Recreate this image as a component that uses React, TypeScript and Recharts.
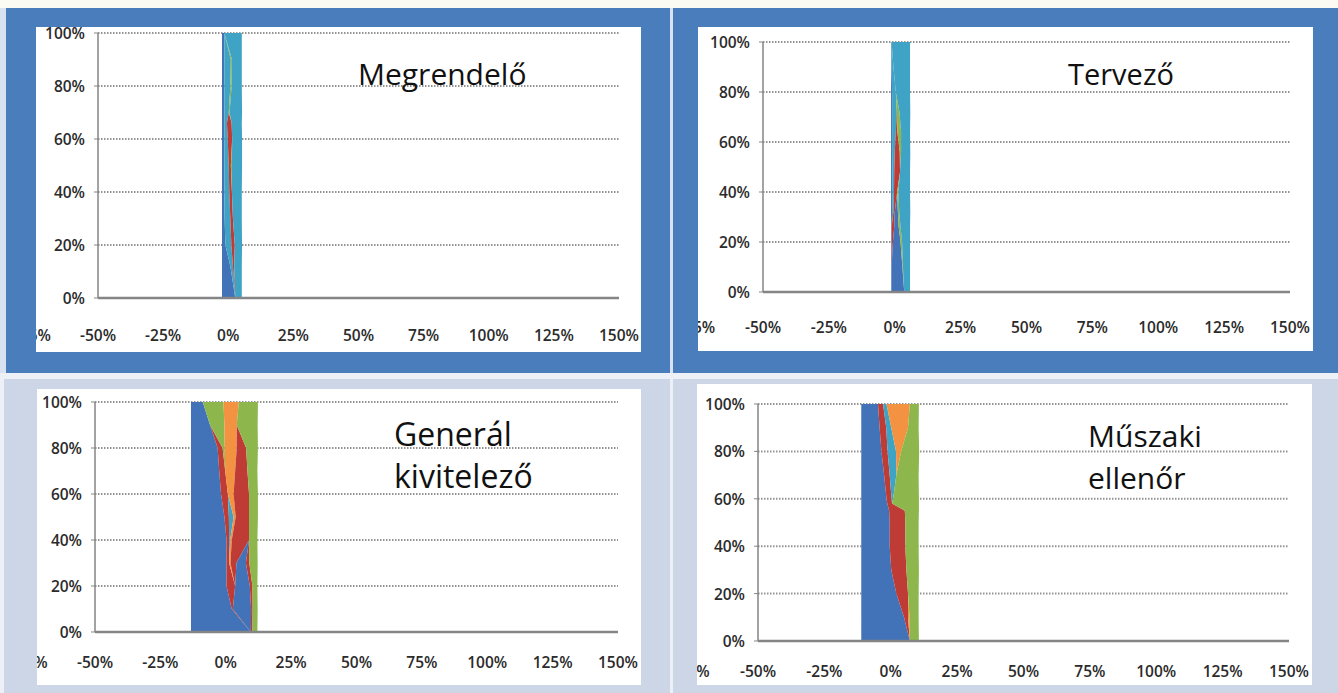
import { AreaChart, Area, XAxis, YAxis, CartesianGrid } from 'recharts';

const BLUE = '#4272B7';
const RED = '#BF3C36';
const GREEN = '#8DB64C';
const TEAL = '#3FA3C5';
const ORANGE = '#F39241';

const xTicks = [-50, -25, 0, 25, 50, 75, 100, 125, 150];
const yTicks = [0, 20, 40, 60, 80, 100];

// Megrendelő: cumulative share (y) vs. deviation band widths (x, in %)
const megrendeloLevels = [0, 12, 20, 30, 40, 50, 60, 66, 70, 80, 90, 100];
const megrendeloStart = -2.4;
const megrendeloBlue = [5.1, 3.2, 1.3, 1.0, 0.9, 0.9, 0.9, 0.9, 0.9, 0.9, 0.9, 0.9];
const megrendeloTeal = [0, 1.0, 2.3, 2.2, 1.9, 1.7, 1.3, 1.0, 1.7, 2.3, 2.5, 0];
const megrendeloRed = [0, 0.5, 1.3, 1.0, 1.0, 0.8, 1.7, 1.8, 0, 0, 0, 0];
const megrendeloGreen = [0, 0, 0, 0, 0, 0.4, 0, 0, 0.3, 0.5, 0.4, 0];
const megrendeloTeal2 = [2.5, 2.9, 2.8, 3.4, 3.8, 3.9, 3.8, 3.9, 4.8, 3.9, 3.8, 6.7];

// Tervező
const tervezoLevels = [0, 10, 20, 26, 32, 40, 48, 56, 64, 72, 80, 90, 100];
const tervezoStart = -1.4;
const tervezoBlue = [0.2, 0.2, 0.2, 0.2, 0.4, 0.5, 0.5, 0.4, 0.4, 0.4, 0.4, 0.2, 0.2];
const tervezoTeal = [0, 0, 0, 0, 0.5, 0.6, 0.7, 1.0, 1.4, 1.8, 1.4, 0.7, 0];
const tervezoRed = [0, 0, 0.5, 1.0, 0.5, 1.2, 2.2, 1.9, 0.6, 0, 0, 0, 0];
const tervezoBlue2 = [4.8, 4.1, 2.9, 1.7, 1.2, 0, 0, 0, 0, 0, 0, 0, 0];
const tervezoGreen = [0, 0.2, 0.6, 0.7, 0.5, 0.5, 0, 0.5, 1.4, 1.0, 0, 0, 0];
const tervezoTeal2 = [2.2, 2.7, 3.0, 3.6, 4.2, 4.4, 3.8, 3.5, 3.4, 4.1, 5.4, 6.3, 7.0];

// Generál kivitelező
const generalLevels = [0, 10, 20, 30, 40, 50, 60, 70, 80, 90, 100];
const generalStart = -13.3;
const generalBlue = [22.9, 15.6, 13.6, 13.6, 13.6, 12.8, 11.5, 10.8, 10.2, 7.3, 4.5];
const generalRed = [0, 0.4, 3.3, 1.0, 1.0, 1.7, 2.6, 2.3, 1.9, 0, 0];
const generalGreen = [0, 0, 0, 0, 0, 0, 0, 0, 0.8, 5.5, 7.9];
const generalTeal = [0, 0, 0, 0, 0.4, 1.8, 0, 0, 0, 0, 0];
const generalOrange = [0, 0, 0, 0.5, 0.6, 0.8, 2.2, 3.8, 4.6, 4.7, 5.9];
const generalRed2 = [0, 0, 0, 2.3, 6.6, 5.1, 5.9, 4.7, 3.6, 0, 0];
const generalBlue2 = [0, 7.0, 5.6, 3.6, 0, 0, 0, 0, 0, 0, 0];
const generalRed3 = [0.6, 0.6, 1.0, 1.3, 0, 0, 0, 0, 0, 0, 0];
const generalGreen2 = [1.9, 1.9, 1.9, 3.2, 3.2, 3.4, 3.4, 3.8, 4.5, 8.0, 7.3];

// Műszaki ellenőr
const muszakiLevels = [0, 10, 20, 30, 40, 50, 55, 58, 60, 70, 80, 90, 100];
const muszakiStart = -11.1;
const muszakiBlue = [18.3, 16.1, 13.2, 11.3, 10.7, 10.7, 10.5, 9.8, 9.5, 8.6, 7.6, 6.9, 6.3];
const muszakiRed = [0, 1.5, 4.4, 5.7, 5.9, 5.9, 5.9, 1.8, 1.9, 2.1, 2.3, 2.5, 1.9];
const muszakiTeal = [0, 0, 0, 0, 0, 0, 0, 0, 0.6, 2.5, 3.2, 1.9, 1.3];
const muszakiOrange = [0, 0.6, 0, 0, 0, 0, 0, 0, 0, 0, 1.9, 6.3, 8.8];
const muszakiGreen = [3.4, 3.4, 4.0, 4.7, 5.0, 5.0, 5.3, 10.1, 9.7, 8.4, 6.8, 4.0, 3.4];

type Series = { values: number[]; color: string };
type Box = { x: number; y: number; w: number; h: number };
type Plot = { L: number; T: number; R: number; B: number };

type PanelDef = {
  bg: Box;
  bgColor: string;
  card: Box;
  plot: Plot;
  xLabelGap: number;
  levels: number[];
  start: number;
  series: Series[];
  title: string[];
  titlePos: { x: number; y: number; size: number; lh: number };
};

const AXIS_FONT = { fontFamily: 'Open Sans', fontSize: 15.5, fontWeight: 600, fill: '#2b2b2b' };

function buildRows(levels: number[], start: number, series: Series[]) {
  return levels.map((y, i) => {
    const row: Record<string, number> = { y, start };
    series.forEach((s, k) => {
      row['s' + k] = s.values[i];
    });
    return row;
  });
}

function Panel({ p }: { p: PanelDef }) {
  const { card, plot } = p;
  const rows = buildRows(p.levels, p.start, p.series);
  const step = (plot.R - plot.L) / 8;
  const labelY = plot.B - card.y + p.xLabelGap;
  const yLabelX = plot.L - card.x - 13;

  const XTick = (props: any) => {
    const { x, payload } = props;
    return (
      <g>
        {payload.value === -50 && (
          <text x={x - step} y={labelY} textAnchor="middle" dominantBaseline="central" {...AXIS_FONT}>
            -75%
          </text>
        )}
        <text x={x} y={labelY} textAnchor="middle" dominantBaseline="central" {...AXIS_FONT}>
          {payload.value}%
        </text>
      </g>
    );
  };

  const YTick = (props: any) => {
    const { y, payload } = props;
    return (
      <text x={yLabelX} y={y} textAnchor="end" dominantBaseline="central" {...AXIS_FONT}>
        {payload.value}%
      </text>
    );
  };

  return (
    <>
      <div
        style={{
          position: 'absolute',
          left: p.bg.x,
          top: p.bg.y,
          width: p.bg.w,
          height: p.bg.h,
          background: p.bgColor,
        }}
      />
      <div
        style={{
          position: 'absolute',
          left: card.x,
          top: card.y,
          width: card.w,
          height: card.h,
          background: '#ffffff',
          overflow: 'hidden',
        }}
      >
        <AreaChart
          layout="vertical"
          width={card.w}
          height={card.h}
          data={rows}
          margin={{ top: plot.T - card.y, right: card.x + card.w - plot.R, bottom: 0, left: 0 }}
        >
          <CartesianGrid vertical={false} stroke="#939393" strokeWidth={2} strokeDasharray="1.5 1.5" />
          <XAxis
            type="number"
            domain={[-50, 150]}
            ticks={xTicks}
            height={card.y + card.h - plot.B}
            axisLine={{ stroke: '#858585', strokeWidth: 2.5 }}
            tickLine={false}
            tick={<XTick />}
            interval={0}
          />
          <YAxis
            type="number"
            dataKey="y"
            domain={[0, 100]}
            ticks={yTicks}
            reversed
            width={plot.L - card.x}
            axisLine={{ stroke: '#858585', strokeWidth: 1.5 }}
            tickLine={{ stroke: '#858585' }}
            tickSize={4}
            tick={<YTick />}
            interval={0}
          />
          <Area
            type="linear"
            dataKey="start"
            stackId="band"
            fill="none"
            stroke="none"
            isAnimationActive={false}
            dot={false}
            activeDot={false}
          />
          {p.series.map((s, k) => (
            <Area
              key={k}
              type="linear"
              dataKey={'s' + k}
              stackId="band"
              fill={s.color}
              fillOpacity={1}
              stroke="none"
              isAnimationActive={false}
              dot={false}
              activeDot={false}
            />
          ))}
        </AreaChart>
      </div>
      <div
        style={{
          position: 'absolute',
          left: p.titlePos.x,
          top: p.titlePos.y,
          fontFamily: 'Open Sans',
          fontSize: p.titlePos.size,
          lineHeight: p.titlePos.lh + 'px',
          color: '#111',
          whiteSpace: 'nowrap',
        }}
      >
        {p.title.map((t) => (
          <div key={t}>{t}</div>
        ))}
      </div>
    </>
  );
}

const TOP_BLUE = '#4A7DBC';
const BOTTOM_GREY = '#CDD6E7';

const panels: PanelDef[] = [
  {
    bg: { x: 6, y: 8, w: 664, h: 365 },
    bgColor: TOP_BLUE,
    card: { x: 36, y: 27, w: 605, h: 325 },
    plot: { L: 98, T: 33, R: 619, B: 298 },
    xLabelGap: 37,
    levels: megrendeloLevels,
    start: megrendeloStart,
    series: [
      { values: megrendeloBlue, color: BLUE },
      { values: megrendeloTeal, color: TEAL },
      { values: megrendeloRed, color: RED },
      { values: megrendeloGreen, color: GREEN },
      { values: megrendeloTeal2, color: TEAL },
    ],
    title: ['Megrendelő'],
    titlePos: { x: 358, y: 54, size: 30, lh: 40 },
  },
  {
    bg: { x: 673, y: 8, w: 665, h: 365 },
    bgColor: TOP_BLUE,
    card: { x: 698, y: 27, w: 615, h: 324 },
    plot: { L: 763, T: 42, R: 1290, B: 292 },
    xLabelGap: 35,
    levels: tervezoLevels,
    start: tervezoStart,
    series: [
      { values: tervezoBlue, color: BLUE },
      { values: tervezoTeal, color: TEAL },
      { values: tervezoRed, color: RED },
      { values: tervezoBlue2, color: BLUE },
      { values: tervezoGreen, color: GREEN },
      { values: tervezoTeal2, color: TEAL },
    ],
    title: ['Tervező'],
    titlePos: { x: 1068, y: 54, size: 29, lh: 40 },
  },
  {
    bg: { x: 4, y: 379, w: 666, h: 314 },
    bgColor: BOTTOM_GREY,
    card: { x: 37, y: 389, w: 604, h: 296 },
    plot: { L: 95, T: 402, R: 618, B: 632 },
    xLabelGap: 30,
    levels: generalLevels,
    start: generalStart,
    series: [
      { values: generalBlue, color: BLUE },
      { values: generalRed, color: RED },
      { values: generalGreen, color: GREEN },
      { values: generalTeal, color: TEAL },
      { values: generalOrange, color: ORANGE },
      { values: generalRed2, color: RED },
      { values: generalBlue2, color: BLUE },
      { values: generalRed3, color: RED },
      { values: generalGreen2, color: GREEN },
    ],
    title: ['Generál', 'kivitelező'],
    titlePos: { x: 394, y: 413, size: 32, lh: 42 },
  },
  {
    bg: { x: 673, y: 379, w: 665, h: 314 },
    bgColor: BOTTOM_GREY,
    card: { x: 697, y: 384, w: 615, h: 301 },
    plot: { L: 758, T: 404, R: 1289, B: 641 },
    xLabelGap: 30,
    levels: muszakiLevels,
    start: muszakiStart,
    series: [
      { values: muszakiBlue, color: BLUE },
      { values: muszakiRed, color: RED },
      { values: muszakiTeal, color: TEAL },
      { values: muszakiOrange, color: ORANGE },
      { values: muszakiGreen, color: GREEN },
    ],
    title: ['Műszaki', 'ellenőr'],
    titlePos: { x: 1088, y: 415, size: 30, lh: 42 },
  },
];

export default function App() {
  return (
    <div
      style={{
        position: 'absolute',
        left: 0,
        top: 0,
        width: 1338,
        height: 693,
        overflow: 'hidden',
        background: '#FBFAF3',
      }}
    >
      <div style={{ position: 'absolute', left: 0, top: 8, width: 1338, height: 365, background: '#D8E2F1' }} />
      <div style={{ position: 'absolute', left: 0, top: 373, width: 1338, height: 320, background: '#EDF0F6' }} />
      {panels.map((p, i) => (
        <Panel key={i} p={p} />
      ))}
    </div>
  );
}
